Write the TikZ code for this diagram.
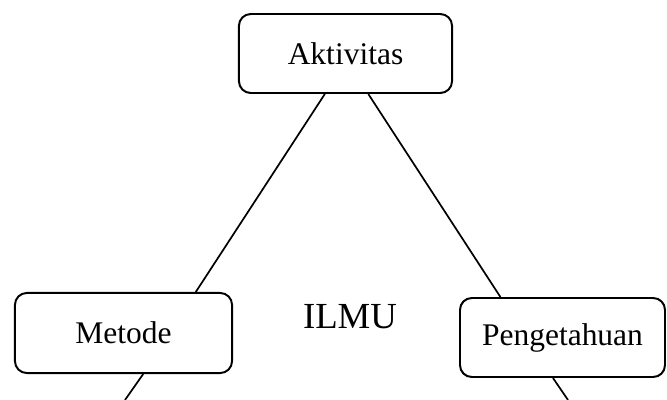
\documentclass[tikz,border=0pt]{standalone}
\usepackage{fontspec}
\setmainfont{Liberation Serif}
\usepackage{tikz}
\usetikzlibrary{positioning,calc}

\begin{document}
\begin{tikzpicture}[x=0.381pt,y=-0.381pt,
            box/.style={draw,rounded corners=4.5pt,line width=0.75pt,inner sep=0pt,font=\fontsize{12}{14}\selectfont},
            link/.style={line width=0.65pt}]
            \useasboundingbox (0,0) rectangle (667,400);
            \node[box,minimum width=81.2pt,minimum height=30.1pt] (aktivitas) at (345.5,53.5) {Aktivitas};
            \node[box,minimum width=82.7pt,minimum height=30.5pt] (metode) at (123.5,333) {Metode};
            \node[box,minimum width=78.1pt,minimum height=30.1pt] (pengetahuan) at (562.5,337.5) {Pengetahuan};
            \node[anchor=base,inner sep=0pt,font=\fontsize{14}{16}\selectfont] (ilmu) at (350,328) {ILMU};
            \coordinate (metode-out) at (125,400);
            \coordinate (pengetahuan-out) at (568,400);
            \draw[link] ($(aktivitas.south west)!0.404!(aktivitas.south east)$) -- ($(metode.north west)!0.83!(metode.north east)$);
            \draw[link] ($(aktivitas.south west)!0.606!(aktivitas.south east)$) -- ($(pengetahuan.north west)!0.2!(pengetahuan.north east)$);
            \draw[link] ($(metode.south west)!0.59!(metode.south east)$) -- (metode-out);
            \draw[link] ($(pengetahuan.south west)!0.454!(pengetahuan.south east)$) -- (pengetahuan-out);
\end{tikzpicture}
\end{document}
